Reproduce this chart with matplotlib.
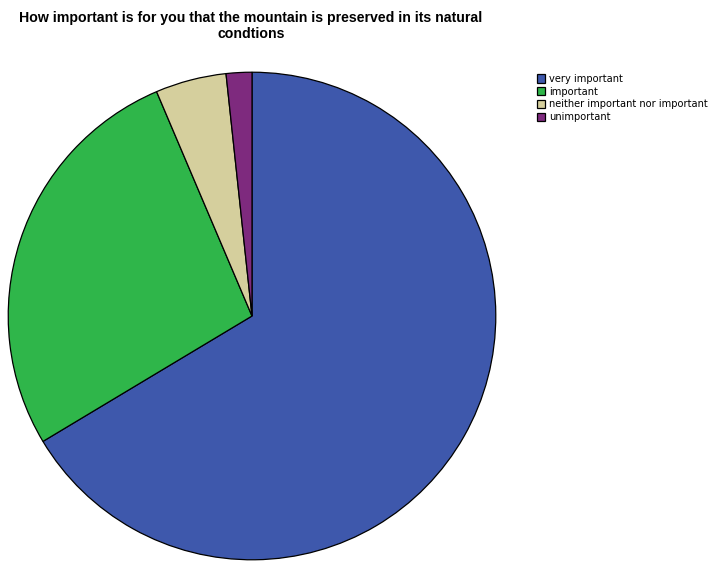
import matplotlib.pyplot as plt

# values (percent)
labels = ["very important", "important", "neither important nor important", "unimportant"]
values = [66.4, 27.2, 4.7, 1.7]
colors = ["#3e58ac", "#2fb64a", "#d5cf9d", "#7e2a7e"]

title = "How important is for you that the mountain is preserved in its natural\ncondtions"

fig = plt.figure(figsize=(7.09, 5.62), dpi=100)
ax = fig.add_axes([7 / 709, 1 / 562, 490 / 709, 490 / 562])

wedges, _ = ax.pie(values, colors=colors, startangle=90, counterclock=False,
                   radius=1.0, wedgeprops=dict(edgecolor="black", linewidth=0.9))
ax.set_xlim(-1.005, 1.005)
ax.set_ylim(-1.005, 1.005)
ax.set_aspect("equal")
ax.axis("off")

fig.text(251 / 709, 1 - 26 / 562, title, ha="center", va="center",
         fontsize=10.2, fontweight="bold", family="Liberation Sans", linespacing=1.25)

fig.legend(wedges, labels, loc="upper left", bbox_to_anchor=(533 / 709, 1 - 70 / 562),
           frameon=False, fontsize=7.1, handlelength=0.85, handleheight=0.9,
           handletextpad=0.35, labelspacing=0.28, borderaxespad=0)

fig.savefig("out.png", dpi=100)
